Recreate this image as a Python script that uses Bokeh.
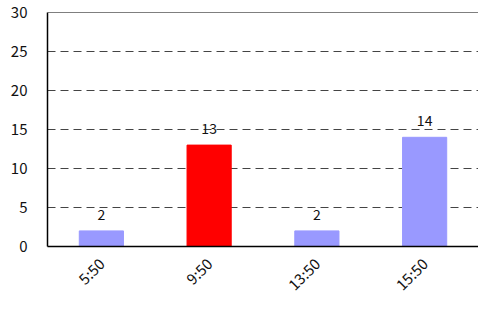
import math
from bokeh.plotting import figure
from bokeh.models import ColumnDataSource, FactorRange, Range1d, Span, FixedTicker
from bokeh.core.properties import value
from bokeh.embed import file_html
from bokeh.resources import INLINE

categories = ["5:50", "9:50", "13:50", "15:50"]
counts = [2, 13, 2, 14]
colors = ["#9999FF", "#FF0000", "#9999FF", "#9999FF"]
y_ticks = [0, 5, 10, 15, 20, 25, 30]

FONT = "Noto Sans CJK JP"

src = ColumnDataSource(dict(cat=categories, val=counts, color=colors,
                            lab=[str(v) for v in counts]))

p = figure(x_range=FactorRange(factors=categories, range_padding=0),
           y_range=Range1d(0, 30), width=478, height=304,
           output_backend="svg", toolbar_location=None,
           min_border_left=47, min_border_right=0, min_border_top=12, min_border_bottom=10)

p.vbar(x="cat", top="val", width=0.41, color="color", source=src)
p.text(x="cat", y="val", text="lab", source=src, text_align="center",
       text_baseline="bottom", y_offset=-11, text_font=value(FONT),
       text_font_size="14px", text_color="#111111")

p.outline_line_color = None
p.add_layout(Span(location=30, dimension="width", line_color="black", line_width=1))

p.xgrid.grid_line_color = None
p.ygrid.grid_line_color = "#444444"
p.ygrid.grid_line_dash = "8 5"
p.ygrid.grid_line_width = 1
p.ygrid.ticker = FixedTicker(ticks=[5, 10, 15, 20, 25])

p.yaxis.ticker = FixedTicker(ticks=y_ticks)
for ax in (p.xaxis, p.yaxis):
    ax.axis_line_color = "black"
    ax.axis_line_width = 1.5
    ax.major_tick_line_color = None
    ax.minor_tick_line_color = None
    ax.major_label_text_font = FONT
    ax.major_label_text_font_size = "15px"
    ax.major_label_text_color = "#111111"
p.yaxis.major_label_standoff = 14
p.xaxis.major_label_orientation = math.pi / 4
p.xaxis.major_label_standoff = 8

open("out.html", "w").write(file_html(p, INLINE))
